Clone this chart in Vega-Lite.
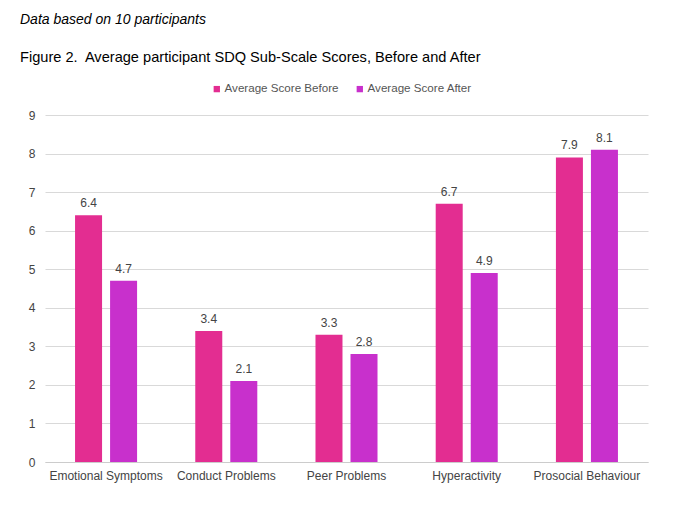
{
  "$schema": "https://vega.github.io/schema/vega-lite/v6.json",
  "width": 603,
  "height": 347,
  "autosize": "none",
  "padding": {"left": 45, "top": 115, "right": 25, "bottom": 43},
  "background": "white",
  "title": {
    "text": "Data based on 10 participants",
    "subtitle": "Figure 2.\u00a0 Average participant SDQ Sub-Scale Scores, Before and After",
    "anchor": "start",
    "frame": "group",
    "dx": -25,
    "font": "Liberation Sans",
    "fontSize": 14,
    "fontStyle": "italic",
    "fontWeight": "normal",
    "color": "#000000",
    "subtitleFont": "Liberation Sans",
    "subtitleFontSize": 14.6,
    "subtitleColor": "#000000",
    "subtitlePadding": 23,
    "offset": 18
  },
  "data": {
    "values": [
      {"category": "Emotional Symptoms", "series": "Average Score Before", "score": 6.4},
      {"category": "Emotional Symptoms", "series": "Average Score After", "score": 4.7},
      {"category": "Conduct Problems", "series": "Average Score Before", "score": 3.4},
      {"category": "Conduct Problems", "series": "Average Score After", "score": 2.1},
      {"category": "Peer Problems", "series": "Average Score Before", "score": 3.3},
      {"category": "Peer Problems", "series": "Average Score After", "score": 2.8},
      {"category": "Hyperactivity", "series": "Average Score Before", "score": 6.7},
      {"category": "Hyperactivity", "series": "Average Score After", "score": 4.9},
      {"category": "Prosocial Behaviour", "series": "Average Score Before", "score": 7.9},
      {"category": "Prosocial Behaviour", "series": "Average Score After", "score": 8.1}
    ]
  },
  "encoding": {
    "x": {
      "field": "category",
      "type": "nominal",
      "sort": null,
      "scale": {"paddingInner": 0.484, "paddingOuter": 0.25},
      "axis": {
        "title": null,
        "labelAngle": 0,
        "ticks": false,
        "domainColor": "#cccccc",
        "labelFont": "Liberation Sans",
        "labelFontSize": 12,
        "labelColor": "#444444",
        "labelPadding": 8
      }
    },
    "xOffset": {
      "field": "series",
      "type": "nominal",
      "sort": ["Average Score Before", "Average Score After"],
      "scale": {"paddingInner": 0.229, "paddingOuter": 0}
    },
    "y": {
      "field": "score",
      "type": "quantitative",
      "scale": {"domain": [0, 9], "nice": false},
      "axis": {
        "title": null,
        "values": [0, 1, 2, 3, 4, 5, 6, 7, 8, 9],
        "labelOverlap": false,
        "domain": false,
        "ticks": false,
        "gridColor": "#d9d9d9",
        "labelFont": "Liberation Sans",
        "labelFontSize": 12,
        "labelColor": "#444444",
        "labelPadding": 10
      }
    },
    "color": {
      "field": "series",
      "type": "nominal",
      "sort": ["Average Score Before", "Average Score After"],
      "scale": {"domain": ["Average Score Before", "Average Score After"], "range": ["#e32d91", "#c830cc"]},
      "legend": {
        "title": null,
        "orient": "none",
        "direction": "horizontal",
        "legendX": 166,
        "legendY": -32,
        "symbolType": "square",
        "symbolSize": 40,
        "symbolStrokeWidth": 0,
        "labelFont": "Liberation Sans",
        "labelFontSize": 11.6,
        "labelColor": "#555555",
        "labelOffset": 2,
        "columnPadding": 15
      }
    }
  },
  "layer": [
    {"mark": {"type": "bar"}},
    {
      "mark": {"type": "text", "dy": -12, "font": "Liberation Sans", "fontSize": 12, "color": "#444444"},
      "encoding": {
        "text": {"field": "score", "type": "quantitative", "format": ".1f"},
        "color": {"value": "#444444"}
      }
    }
  ],
  "config": {"view": {"stroke": null}}
}
